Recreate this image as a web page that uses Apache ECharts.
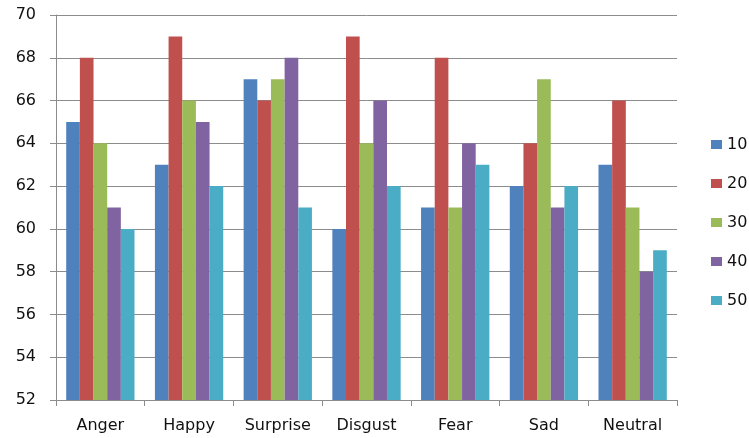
<!DOCTYPE html>
<html>
<head>
<meta charset="utf-8">
<script src="https://cdn.jsdelivr.net/npm/echarts@6/dist/echarts.min.js"></script>
<style>html,body{margin:0;padding:0;background:#fff}#c{width:749px;height:438px}</style>
</head>
<body>
<div id="c"></div>
<script>
const categories = ['Anger', 'Happy', 'Surprise', 'Disgust', 'Fear', 'Sad', 'Neutral'];
const seriesNames = ['10', '20', '30', '40', '50'];
const s10 = [65, 63, 67, 60, 61, 62, 63];
const s20 = [68, 69, 66, 69, 68, 64, 66];
const s30 = [64, 66, 67, 64, 61, 67, 61];
const s40 = [61, 65, 68, 66, 64, 61, 58];
const s50 = [60, 62, 61, 62, 63, 62, 59];
const colors = ['#4F81BD', '#C0504D', '#9BBB59', '#8064A2', '#4BACC6'];

const values = [s10, s20, s30, s40, s50];
const font = 'DejaVu Sans, sans-serif';
const textColor = '#111';
const lineColor = '#8c8c8c';

const chart = echarts.init(document.getElementById('c'));
chart.setOption({
  animation: false,
  color: colors,
  grid: { left: 56, right: 72, top: 15, bottom: 38, containLabel: false },
  legend: {
    orient: 'vertical',
    left: 711,
    top: 136,
    padding: 0,
    itemWidth: 11,
    itemHeight: 9,
    itemGap: 22,
    itemStyle: { borderWidth: 0 },
    icon: 'rect',
    textStyle: { fontFamily: font, fontSize: 16, color: textColor, lineHeight: 17 },
    data: seriesNames
  },
  xAxis: {
    type: 'category',
    data: categories,
    axisLine: { lineStyle: { color: lineColor, width: 1 } },
    axisTick: { show: true, length: 6, alignWithLabel: false, lineStyle: { color: lineColor } },
    axisLabel: { fontFamily: font, fontSize: 16, color: textColor, margin: 18 }
  },
  yAxis: {
    type: 'value',
    min: 52,
    max: 70,
    interval: 2,
    axisLine: { show: true, lineStyle: { color: lineColor, width: 1 } },
    axisTick: { show: true, length: 6, lineStyle: { color: lineColor } },
    axisLabel: { fontFamily: font, fontSize: 16, color: textColor, margin: 20 },
    splitLine: { lineStyle: { color: lineColor, width: 1 } }
  },
  series: seriesNames.map((n, i) => ({
    name: n,
    type: 'bar',
    data: values[i],
    barGap: '0%',
    barCategoryGap: '23%'
  }))
});
</script>
</body>
</html>
